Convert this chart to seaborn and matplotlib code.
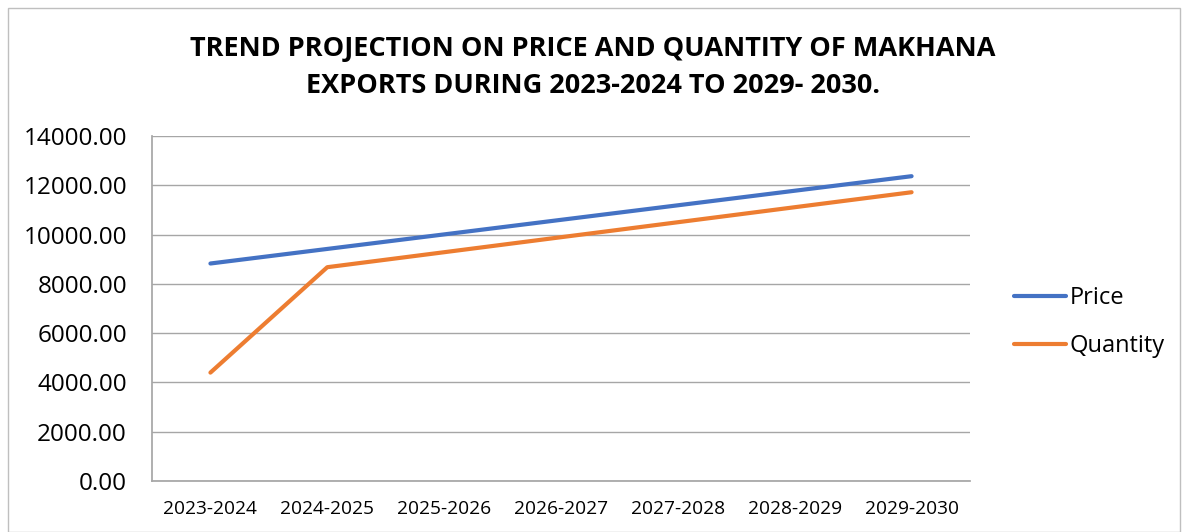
import matplotlib
matplotlib.use("Agg")
import matplotlib.pyplot as plt
import seaborn as sns
import pandas as pd
from matplotlib.patches import Rectangle

years = ["2023-2024", "2024-2025", "2025-2026", "2026-2027", "2027-2028", "2028-2029", "2029-2030"]
price = [8826, 9417, 10007, 10598, 11188, 11779, 12369]
quantity = [4399, 8676, 9284, 9893, 10501, 11110, 11718]
series_names = ["Price", "Quantity"]
yticks = [0, 2000, 4000, 6000, 8000, 10000, 12000, 14000]

df = pd.DataFrame({
    "Year": years * 2,
    "Value": price + quantity,
    "Series": [series_names[0]] * len(years) + [series_names[1]] * len(years),
})

sns.set_theme(style="white")
plt.rcParams['font.family'] = ['Open Sans', 'DejaVu Sans']
plt.rcParams['text.color'] = '#000000'

fig = plt.figure(figsize=(11.86, 5.32), dpi=100)
ax = fig.add_axes([152/1186, 1 - 481/532, (970-152)/1186, (481-136)/532])

sns.lineplot(data=df, x="Year", y="Value", hue="Series", sort=False,
             palette={"Price": "#4472C4", "Quantity": "#ED7D31"},
             linewidth=3, ax=ax, legend=True)

ax.set_xlim(-0.5, len(years) - 0.5)
ax.set_ylim(0, 14000)
ax.set_yticks(yticks)
ax.set_yticklabels([f"{v:.2f}" for v in yticks], fontsize=17.5, color="#000000")
ax.set_xticks(range(len(years)))
ax.set_xticklabels(years, fontsize=13.8, color="#000000")
ax.tick_params(axis='y', length=0, pad=18)
ax.tick_params(axis='x', length=0, pad=14)
ax.set_xlabel("")
ax.set_ylabel("")
ax.grid(axis='y', color="#a6a6a6", linewidth=1)
ax.set_axisbelow(True)
for s in ["top", "right"]:
    ax.spines[s].set_visible(False)
ax.spines["left"].set_color("#a6a6a6")
ax.spines["bottom"].set_color("#a6a6a6")

leg = ax.legend(loc="center left", bbox_to_anchor=(1.028, 0.46), frameon=False,
                fontsize=17, handlelength=2.2, handletextpad=0.15, labelspacing=1.0)
for h in leg.get_lines():
    h.set_linewidth(3)
for t in leg.get_texts():
    t.set_color("#000000")

fig.text(0.5, 0.874, "TREND PROJECTION ON PRICE AND QUANTITY OF MAKHANA\nEXPORTS DURING 2023-2024 TO 2029- 2030.",
         ha="center", va="center", fontsize=19.5, fontweight="bold", linespacing=1.55,
         color="#000000")

fig.patches.append(Rectangle((8/1186, 0), 1 - 14/1186, 1 - 8/532, transform=fig.transFigure,
                             fill=False, edgecolor="#bfbfbf", linewidth=1))

fig.savefig("out.png", dpi=100)
